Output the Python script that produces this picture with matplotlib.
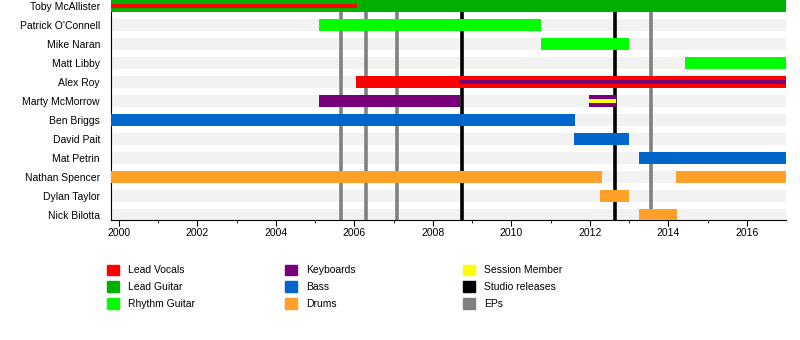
import matplotlib.pyplot as plt
from matplotlib.patches import Patch

plt.rcParams['font.family'] = ['Liberation Sans', 'DejaVu Sans']

members = ['Toby McAllister', "Patrick O'Connell", 'Mike Naran', 'Matt Libby',
           'Alex Roy', 'Marty McMorrow', 'Ben Briggs', 'David Pait',
           'Mat Petrin', 'Nathan Spencer', 'Dylan Taylor', 'Nick Bilotta']

roles = ['Lead Vocals', 'Lead Guitar', 'Rhythm Guitar', 'Keyboards', 'Bass',
         'Drums', 'Session Member', 'Studio releases', 'EPs']
role_colors = ['#ff0000', '#00b000', '#00ff00', '#780078', '#0066cc',
               '#ffa028', '#ffff00', '#000000', '#808080']

# main bars
bar_member = ['Toby McAllister', "Patrick O'Connell", 'Mike Naran', 'Matt Libby',
              'Alex Roy', 'Marty McMorrow', 'Marty McMorrow', 'Ben Briggs',
              'David Pait', 'Mat Petrin', 'Nathan Spencer', 'Nathan Spencer',
              'Dylan Taylor', 'Nick Bilotta']
bar_role = ['Lead Guitar', 'Rhythm Guitar', 'Rhythm Guitar', 'Rhythm Guitar',
            'Lead Vocals', 'Keyboards', 'Keyboards', 'Bass',
            'Bass', 'Bass', 'Drums', 'Drums',
            'Drums', 'Drums']
bar_start = [1999.8, 2005.1, 2010.75, 2014.43, 2006.05, 2005.1, 2011.98, 1999.8,
             2011.6, 2013.25, 1999.8, 2014.2, 2012.27, 2013.25]
bar_end = [2017.0, 2010.76, 2013.0, 2017.0, 2017.0, 2008.7, 2012.67, 2011.63,
           2013.0, 2017.0, 2012.3, 2017.0, 2013.0, 2014.22]

# thin secondary bars
thin_member = ['Toby McAllister', 'Alex Roy', 'Marty McMorrow']
thin_role = ['Lead Vocals', 'Keyboards', 'Session Member']
thin_start = [1999.8, 2008.67, 2011.98]
thin_end = [2006.07, 2017.0, 2012.67]

studio_releases = [2008.75, 2012.65]
eps = [2005.67, 2006.29, 2007.08, 2013.57]

color_of = dict(zip(roles, role_colors))
row_of = {m: i for i, m in enumerate(members)}

fig = plt.figure(figsize=(8, 3.4), dpi=100)
ax = fig.add_axes([0.13875, 0.3529, 0.84375, 0.6471])

bh = 12 / 19
for i in range(len(members)):
    ax.barh(i, 2017.0 - 1999.8, left=1999.8, height=bh, color='#f2f2f2', zorder=1)

for x in eps:
    ax.axvline(x, color=color_of['EPs'], lw=2.6, zorder=2)
for x in studio_releases:
    ax.axvline(x, color=color_of['Studio releases'], lw=2.6, zorder=2)

for m, r, s, e in zip(bar_member, bar_role, bar_start, bar_end):
    ax.barh(row_of[m], e - s, left=s, height=bh, color=color_of[r], zorder=3)
for m, r, s, e in zip(thin_member, thin_role, thin_start, thin_end):
    ax.barh(row_of[m], e - s, left=s, height=4 / 19, color=color_of[r], zorder=4)

ax.set_xlim(1999.8, 2017.0)
ax.set_ylim(11 + 5 / 19, -6 / 19)
ax.set_yticks(range(len(members)))
ax.set_yticklabels(members, fontsize=7.5)
ax.tick_params(axis='y', length=0, pad=8)
ax.set_xticks(range(2000, 2017, 2))
ax.set_xticks(range(2001, 2017, 2), minor=True)
ax.tick_params(axis='x', which='major', length=4, labelsize=7.5, pad=2)
ax.tick_params(axis='x', which='minor', length=2)
for sp in ['top', 'right']:
    ax.spines[sp].set_visible(False)

# legend: three columns of three entries
handles = [Patch(color=c, label=r) for r, c in zip(roles, role_colors)]
col_x = [0.13375, 0.35625, 0.57875]
for k, x in enumerate(col_x):
    fig.legend(handles=handles[3 * k:3 * k + 3], loc='upper left',
               bbox_to_anchor=(x, 0.222), frameon=False, fontsize=7.5,
               handlelength=1.15, handleheight=1.15, handletextpad=0.85,
               labelspacing=0.6, borderpad=0, borderaxespad=0)

fig.savefig('out.png')
